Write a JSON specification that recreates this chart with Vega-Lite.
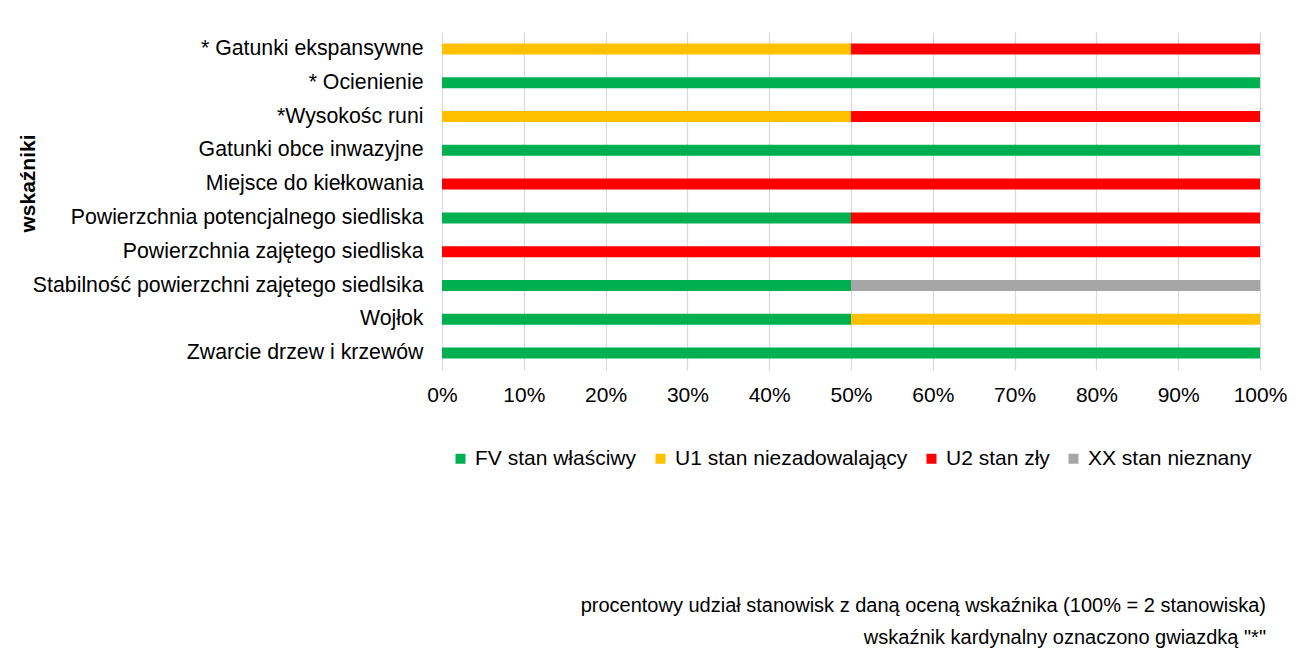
{
  "$schema": "https://vega.github.io/schema/vega-lite/v6.json",
  "autosize": {"type": "none"},
  "width": 818,
  "height": 338,
  "padding": {"left": 442, "top": 32, "right": 44, "bottom": 284},
  "background": "white",
  "config": {"font": "Liberation Sans", "view": {"stroke": null}},
  "title": {
    "text": ["procentowy udział stanowisk z daną oceną wskaźnika (100% = 2 stanowiska)", "wskaźnik kardynalny oznaczono gwiazdką \"*\""],
    "orient": "bottom",
    "anchor": "end",
    "frame": "group",
    "align": "right",
    "fontSize": 20,
    "fontWeight": "normal",
    "color": "#000000",
    "lineHeight": 32,
    "dx": 6,
    "offset": 127
  },
  "data": {
    "values": [
      {"indicator": "* Gatunki ekspansywne", "status": "U1 stan niezadowalający", "share": 0.5},
      {"indicator": "* Gatunki ekspansywne", "status": "U2 stan zły", "share": 0.5},
      {"indicator": "* Ocienienie", "status": "FV stan właściwy", "share": 1},
      {"indicator": "*Wysokośc runi", "status": "U1 stan niezadowalający", "share": 0.5},
      {"indicator": "*Wysokośc runi", "status": "U2 stan zły", "share": 0.5},
      {"indicator": "Gatunki obce inwazyjne", "status": "FV stan właściwy", "share": 1},
      {"indicator": "Miejsce do kiełkowania", "status": "U2 stan zły", "share": 1},
      {"indicator": "Powierzchnia potencjalnego siedliska", "status": "FV stan właściwy", "share": 0.5},
      {"indicator": "Powierzchnia potencjalnego siedliska", "status": "U2 stan zły", "share": 0.5},
      {"indicator": "Powierzchnia zajętego siedliska", "status": "U2 stan zły", "share": 1},
      {"indicator": "Stabilność powierzchni zajętego siedlsika", "status": "FV stan właściwy", "share": 0.5},
      {"indicator": "Stabilność powierzchni zajętego siedlsika", "status": "XX stan nieznany", "share": 0.5},
      {"indicator": "Wojłok", "status": "FV stan właściwy", "share": 0.5},
      {"indicator": "Wojłok", "status": "U1 stan niezadowalający", "share": 0.5},
      {"indicator": "Zwarcie drzew i krzewów", "status": "FV stan właściwy", "share": 1}
    ]
  },
  "mark": {"type": "bar", "size": 11},
  "encoding": {
    "y": {
      "field": "indicator",
      "type": "nominal",
      "sort": null,
      "scale": {"paddingInner": 0, "paddingOuter": 0},
      "axis": {
        "title": "wskaźniki",
        "titleFontSize": 21,
        "titleFontWeight": "bold",
        "titleColor": "#000000",
        "titleX": -414,
        "titleY": 151,
        "titleAngle": 270,
        "titleBaseline": "middle",
        "titleAlign": "center",
        "labelFontSize": 21.3,
        "labelColor": "#000000",
        "labelPadding": 19,
        "labelLimit": 500,
        "ticks": false,
        "domain": false,
        "grid": false
      }
    },
    "x": {
      "field": "share",
      "type": "quantitative",
      "stack": "zero",
      "scale": {"domain": [0, 1], "nice": false},
      "axis": {
        "title": null,
        "format": ".0%",
        "values": [0, 0.1, 0.2, 0.3, 0.4, 0.5, 0.6, 0.7, 0.8, 0.9, 1],
        "labelFontSize": 21,
        "labelColor": "#000000",
        "labelPadding": 14,
        "labelFlush": false,
        "ticks": false,
        "domain": false,
        "grid": true,
        "gridColor": "#D9D9D9",
        "gridWidth": 1.2
      }
    },
    "color": {
      "field": "status",
      "type": "nominal",
      "scale": {
        "domain": ["FV stan właściwy", "U1 stan niezadowalający", "U2 stan zły", "XX stan nieznany"],
        "range": ["#00B050", "#FFC000", "#FF0000", "#A6A6A6"]
      },
      "legend": {
        "title": null,
        "orient": "none",
        "direction": "horizontal",
        "legendX": 8,
        "legendY": 416,
        "padding": 0,
        "symbolType": "square",
        "symbolSize": 100,
        "symbolStrokeWidth": 0,
        "symbolOpacity": 1,
        "labelFontSize": 21,
        "labelColor": "#000000",
        "labelOffset": 4,
        "columnPadding": 13,
        "labelLimit": 400
      }
    }
  }
}
